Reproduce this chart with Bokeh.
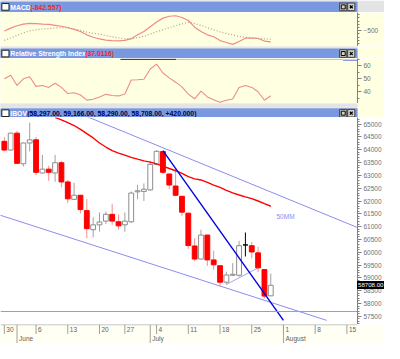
from bokeh.plotting import figure
from bokeh.layouts import column
from bokeh.models import ColumnDataSource, FixedTicker, Range1d, Span, Div
from bokeh.embed import file_html
from bokeh.resources import INLINE
from bokeh.core.properties import value

# ---------------- data ----------------
day_index = list(range(43))
open_ = [64330, 63990, 64650, 63455, 64265, 64390, 63095, 63245, 63095, 63495,
         62745, 62065, 62225, 61625, 60880, 61070, 61215, 61480, 61190, 61070,
         61190, 62360, 62375, 62435, 63430, 63930, 63055, 62585, 62185, 61525,
         60245, 59735, 60670, 59700, 59475, 58830, 59100, 59100, 60285, 60255,
         59975, 59325, 58297]
high = [64500, 64660, 64735, 64280, 65060, 64500, 63800, 63380, 63800, 63570,
        62820, 62710, 62240, 62075, 61365, 61555, 61590, 61890, 61480, 61555,
        62370, 62635, 62685, 63565, 63980, 63965, 63070, 63245, 62200, 61540,
        60545, 60880, 60680, 60060, 59490, 59240, 59575, 60445, 60770, 60395,
        60210, 59340, 59166]
low = [63940, 63975, 63450, 63345, 63940, 63010, 63080, 62785, 62750, 62535,
       61925, 62050, 61515, 60545, 60585, 60805, 61105, 61070, 60880, 60805,
       61140, 62075, 62000, 62410, 63400, 63045, 62460, 62185, 61405, 60135,
       59650, 59720, 59465, 59315, 58640, 58735, 59075, 59050, 59835, 59760,
       59230, 58195, 58290]
close = [63990, 64650, 63470, 64265, 64390, 63120, 63245, 63120, 63495, 62745,
         62085, 62225, 61665, 60920, 61070, 61180, 61480, 61215, 61030, 61215,
         62310, 62400, 62460, 63430, 63940, 63120, 62625, 62225, 61565, 60260,
         59735, 60670, 59700, 59510, 58830, 59110, 59140, 60255, 60285, 60010,
         59390, 58288, 58708]

ma50_index = list(range(8, 43))
ma50 = [65265, 65171, 65060, 64948, 64798, 64631, 64463, 64265, 64108, 63970,
        63873, 63791, 63706, 63635, 63568, 63519, 63448, 63362, 63269, 63183,
        63083, 62952, 62866, 62822, 62728, 62624, 62531, 62419, 62318, 62236,
        62161, 62094, 62001, 61897, 61796]

macd = [-509, -420, -347, -296, -273, -282, -296, -302, -332, -361,
        -400, -459, -524, -627, -701, -754, -789, -804, -813, -798,
        -745, -627, -524, -376, -229, -111, -52, -37, -90, -184,
        -391, -524, -627, -686, -804, -863, -922, -833, -730, -724,
        -739, -819, -843]
macd_signal = [-798, -724, -642, -568, -503, -473, -447, -432, -417, -403,
               -417, -447, -488, -541, -583, -606, -648, -689, -721, -754,
               -754, -715, -671, -603, -530, -465, -406, -344, -288, -243,
               -279, -338, -406, -468, -535, -583, -627, -674, -704, -718,
               -739, -751, -763]
rsi = [50.0, 52.7, 44.9, 50.0, 51.5, 44.2, 44.9, 43.4, 46.6, 43.4,
       38.7, 39.3, 37.6, 33.7, 34.3, 36.1, 38.1, 37.2, 36.9, 38.3,
       49.1, 49.3, 49.6, 57.5, 61.2, 54.4, 50.7, 47.4, 43.8, 38.3,
       34.7, 40.5, 36.1, 33.9, 32.0, 33.6, 34.5, 43.4, 44.9, 43.4,
       40.1, 33.6, 37.0]

week_tick_index = [0, 5, 10, 15, 19, 24, 29, 34, 39, 44, 49, 54]
week_tick_labels = ["30", "6", "13", "20", "27", "4", "11", "18", "25", "1", "8", "15"]
month_tick_index = [2, 23, 44]
month_labels = ["June", "July", "August"]
price_ticks = list(range(57500, 65001, 500))
rsi_ticks = [40, 50, 60]
macd_ticks = [-500]

# drawn trend lines (index, price)
upper_channel_x = [13.0, 57.0]
upper_channel_y = [65298, 60829]
lower_channel_x = [-1.0, 50.8]
lower_channel_y = [61473, 57340]
trend_x = [25.0, 44.0]
trend_y = [63967, 57340]
small_line_x = [35.0, 40.0]
small_line_y = [58740, 59390]
support_level = 57685
last_price = 58708

# ---------------- style / layout ----------------
W = 384
RB = 27
FRAME_W = W - RB
X_RANGE = Range1d(-0.605, 55.67)
FONT = "Liberation Sans"
BAR_BLUE = "#7A98E0"
CREAM = "#FFFFE1"
AXIS_GREY = "#808080"
H_TB1, H_MACD, H_TB2, H_RSI, H_TB3, H_MAIN, H_STRIP = 12, 34, 12, 45, 14, 207, 19
PRICE_LO, PRICE_HI = 57178, 65261


def title_bar(h, y0, y1, band_top, band_bottom, runs, above_color):
    p = figure(width=W, height=h, x_range=Range1d(0, 400), y_range=Range1d(y1, y0),
               toolbar_location=None, output_backend="svg",
               x_axis_location=None, y_axis_location=None,
               min_border=0, outline_line_color=None)
    p.grid.visible = False
    p.background_fill_color = above_color
    p.border_fill_color = above_color
    p.quad(left=[0], right=[400], top=[y0], bottom=[band_top - 1.2], color="#E4E4E4")
    p.quad(left=[0], right=[400], top=[band_top], bottom=[band_bottom], color=BAR_BLUE)
    mid = (band_top + band_bottom) / 2
    # window icon
    p.quad(left=[1.5], right=[9.5], top=[mid - 3.5], bottom=[mid + 3.5],
           fill_color="white", line_color="#202020", line_width=1)
    for x, txt, col in runs:
        p.text(x=[x], y=[mid + 0.3], text=[txt], text_font=value(FONT),
               text_font_style="bold", text_font_size="6.8px", text_color=col,
               text_baseline="middle", text_align="left")
    # buttons
    for bx in (384.0, 393.0):
        p.quad(left=[bx - 4], right=[bx + 4], top=[mid - 4], bottom=[mid + 4],
               fill_color="#D4D0C8", line_color="#404040", line_width=1)
    p.scatter(x=[384.0], y=[mid], marker="square", size=4, fill_color=None,
              line_color="black", line_width=1)
    p.scatter(x=[393.0], y=[mid], marker="x", size=4, line_color="black", line_width=1.2)
    return p


def style_right_axis(p, ticks, minor, bg):
    ax = p.yaxis[0]
    ax.ticker = FixedTicker(ticks=ticks, minor_ticks=minor)
    ax.axis_line_color = AXIS_GREY
    ax.major_tick_line_color = AXIS_GREY
    ax.minor_tick_line_color = AXIS_GREY
    ax.major_tick_in = 0
    ax.major_tick_out = 4
    ax.minor_tick_in = 0
    ax.minor_tick_out = 2
    ax.major_label_standoff = 2
    ax.major_label_text_font = FONT
    ax.major_label_text_font_size = "6.5px"
    ax.major_label_text_color = "#707070"
    p.border_fill_color = bg
    p.background_fill_color = bg


def panel(h, yr, bg):
    p = figure(width=W, height=h, x_range=X_RANGE, y_range=yr,
               toolbar_location=None, output_backend="svg",
               x_axis_location=None, y_axis_location="right",
               min_border_left=0, min_border_right=RB, min_border_top=0,
               min_border_bottom=0, outline_line_color=None)
    p.grid.visible = False
    return p


# ---------- title bar 1 + MACD ----------
tb1 = title_bar(H_TB1, 0.0, 12.6, 1.7, 11.7,
                [(11, "MACD", "white"), (33.3, "(-842.557)", "#FF2020")], "#E4E4E4")

pm = panel(H_MACD, Range1d(-987, 63), CREAM)
style_right_axis(pm, macd_ticks, list(range(-900, 1, 100)), CREAM)
pm.line(day_index, macd, line_color="#F08A8A", line_width=1.2)
pm.line(day_index, macd_signal, line_color="#B8A080", line_width=1.2, line_dash="1 2")

# ---------- title bar 2 + RSI ----------
tb2 = title_bar(H_TB2, 48.2, 60.8, 50.7, 60.5,
                [(11, "Relative Strength Index", "white"), (95.0, "(37.0116)", "#FF2020")], CREAM)

pr = panel(H_RSI, Range1d(31.1, 65.5), CREAM)
style_right_axis(pr, rsi_ticks, [35, 45, 55, 65], CREAM)
pr.line(day_index, rsi, line_color="#F08A8A", line_width=1.1)
pr.line([18.3, 27.1], [64.9, 64.9], line_color="#000080", line_width=1)
pr.line([27.1, 53.4], [64.9, 64.9], line_color="#A8B4F0", line_width=1)
pr.line([53.4, 55.7], [64.2, 64.2], line_color="#6070E0", line_width=1)

# ---------- title bar 3 + main ----------
tb3 = title_bar(H_TB3, 107.9, 122.6, 113.5, 122.6,
                [(11, "IBOV", "white"),
                 (30.0, "(58,297.00, 59,166.00, 58,290.00, 58,708.00, +420.000)", "#000050")],
                CREAM)

pp = panel(H_MAIN, Range1d(PRICE_LO, PRICE_HI), "white")
style_right_axis(pp, price_ticks, list(range(57200, 65300, 100)), "white")

up = [c > o for o, c in zip(open_, close)]
dn = [c < o for o, c in zip(open_, close)]
body_fill = ["white" if u else ("#FF0000" if d else "black") for u, d in zip(up, dn)]
body_line = ["#8C8C8C" if u else ("#FF0000" if d else "black") for u, d in zip(up, dn)]
wick_col = ["#A0A0A0" if u else ("#F49090" if d else "black") for u, d in zip(up, dn)]
src = ColumnDataSource(dict(x=day_index, o=open_, h=high, l=low, c=close,
                            top=[max(o, c) for o, c in zip(open_, close)],
                            bot=[min(o, c) for o, c in zip(open_, close)],
                            fill=body_fill, line=body_line, wick=wick_col))

pp.add_layout(Span(location=support_level, dimension="width", line_color="#8C9AF0", line_width=1))
pp.line(upper_channel_x, upper_channel_y, line_color="#8C8CF0", line_width=1)
pp.line(lower_channel_x, lower_channel_y, line_color="#8C8CF0", line_width=1)
pp.line(small_line_x, small_line_y, line_color="#A0A8F0", line_width=1)
pp.segment(x0="x", y0="l", x1="x", y1="h", line_color="wick", line_width=1, source=src)
pp.vbar(x="x", width=0.76, top="top", bottom="bot", fill_color="fill",
        line_color="line", line_width=1, source=src)
pp.line(ma50_index, ma50, line_color="#FF0000", line_width=1.4)
pp.line(trend_x, trend_y, line_color="#0000E0", line_width=1.4)
pp.text(x=[42.9], y=[61380], text=["50MM"], text_font=value(FONT), text_font_size="6.5px",
        text_color="#8C8CF0", text_baseline="middle", text_align="left")

# ---------- date axis strip ----------
ps = figure(width=W, height=H_STRIP, x_range=X_RANGE, y_range=Range1d(2, 0),
            toolbar_location=None, output_backend="svg",
            x_axis_location=None, y_axis_location=None,
            min_border_left=0, min_border_right=RB, min_border_top=0,
            min_border_bottom=0, outline_line_color=None)
ps.grid.visible = False
ps.background_fill_color = "#FFFFF4"
ps.border_fill_color = "#FFFFF4"
ps.add_layout(Span(location=0.02, dimension="width", line_color="#A0A0A0", line_width=1))
ps.segment(x0=week_tick_index, y0=[0] * len(week_tick_index), x1=week_tick_index,
           y1=[1] * len(week_tick_index), line_color="#A0A0A0", line_width=1)
ps.text(x=week_tick_index, y=[0.5] * len(week_tick_index), text=week_tick_labels,
        x_offset=2, text_font=value(FONT), text_font_size="6.5px", text_color="#606060",
        text_baseline="middle", text_align="left")
ps.segment(x0=month_tick_index, y0=[0] * 3, x1=month_tick_index, y1=[2] * 3,
           line_color="#A0A0A0", line_width=1)
ps.text(x=month_tick_index, y=[1.5] * 3, text=month_labels,
        x_offset=2, text_font=value(FONT), text_font_size="6.5px", text_color="#606060",
        text_baseline="middle", text_align="left")

# ---------- last-price tag over the right price axis ----------
total_h = H_TB1 + H_MACD + H_TB2 + H_RSI + H_TB3 + H_MAIN + H_STRIP
main_top = H_TB1 + H_MACD + H_TB2 + H_RSI + H_TB3
tag_h = 8
tag_center = main_top + (PRICE_HI - last_price) / (PRICE_HI - PRICE_LO) * H_MAIN
tag_top = int(round(tag_center - tag_h / 2))
tag = Div(text="58708.00", width=RB, height=tag_h,
          margin=(tag_top - total_h, 0, 0, FRAME_W),
          styles={"background-color": "black", "color": "white",
                  "font-family": "'Liberation Sans'", "font-size": "6.1px",
                  "line-height": "8px", "white-space": "nowrap",
                  "padding-left": "1px", "box-sizing": "border-box"})

layout = column(tb1, pm, tb2, pr, tb3, pp, ps, tag, spacing=0)
open("out.html", "w").write(file_html(layout, INLINE))
